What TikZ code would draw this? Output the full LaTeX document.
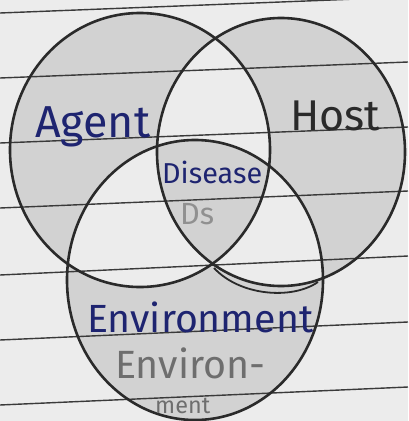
\documentclass[tikz,border=0pt]{standalone}
\usepackage{fontspec}
\setmainfont{Fira Sans}
\usepackage{graphicx}
\definecolor{paper}{HTML}{ECECEC}
\definecolor{shadegray}{HTML}{D2D2D2}
\definecolor{ink}{HTML}{2A2A2A}
\definecolor{blueink}{HTML}{1E2470}
\definecolor{pencil}{HTML}{6E6E6E}
\definecolor{faint}{HTML}{909090}
\definecolor{ruleline}{HTML}{3A3A3A}
\tikzset{
  circ/.style={draw=ink, line width=2.6pt},
  ruled/.style={draw=ruleline, line width=1.4pt},
  lbl/.style={inner sep=0pt, anchor=base west},
}
\begin{document}
\begin{tikzpicture}[x=1pt,y=-1pt]
\useasboundingbox (0,0) rectangle (408,421);
\clip (0,0) rectangle (408,421);
\fill[paper] (0,0) rectangle (408,421);
% Agent only
\begin{scope}
  \clip (140,150) ellipse [x radius=130, y radius=137];
  \fill[shadegray] (0,0) rectangle (408,421);
  \fill[paper] (281,152) ellipse [x radius=124, y radius=134];
  \fill[paper] (195,280) ellipse [x radius=128, y radius=140];
\end{scope}
% Host only
\begin{scope}
  \clip (281,152) ellipse [x radius=124, y radius=134];
  \fill[shadegray] (0,0) rectangle (408,421);
  \fill[paper] (140,150) ellipse [x radius=130, y radius=137];
  \fill[paper] (195,280) ellipse [x radius=128, y radius=140];
\end{scope}
% Environment only
\begin{scope}
  \clip (195,280) ellipse [x radius=128, y radius=140];
  \fill[shadegray] (0,0) rectangle (408,421);
  \fill[paper] (140,150) ellipse [x radius=130, y radius=137];
  \fill[paper] (281,152) ellipse [x radius=124, y radius=134];
\end{scope}
% Centre (disease)
\begin{scope}
  \clip (140,150) ellipse [x radius=130, y radius=137];
  \clip (281,152) ellipse [x radius=124, y radius=134];
  \clip (195,280) ellipse [x radius=128, y radius=140];
  \fill[shadegray] (0,0) rectangle (408,421);
\end{scope}
% ruled paper lines
\draw[ruled] (0,13) -- (408,-3);
\draw[ruled] (0,78) -- (408,62);
\draw[ruled] (0,143) -- (408,127);
\draw[ruled] (0,208) -- (408,191);
\draw[ruled] (0,275) -- (408,256);
\draw[ruled] (0,340) -- (408,322);
\draw[ruled] (0,405) -- (408,387);
% circles
\draw[circ] (140,150) ellipse [x radius=130, y radius=137];
\draw[circ] (281,152) ellipse [x radius=124, y radius=134];
\draw[circ] (195,280) ellipse [x radius=128, y radius=140];
\draw[circ, line width=1.8pt] (214,268) .. controls (240,296) and (292,300) .. (318,282);
% labels
\node[lbl, text=blueink] (agent) at (35,137) {\resizebox{115pt}{!}{Agent}};
\node[lbl, text=ink] (host) at (290,130) {\resizebox{90pt}{!}{Host}};
\node[lbl, text=blueink] (disease) at (162,183) {\resizebox{100pt}{!}{Disease}};
\node[lbl, text=faint] (ds) at (180,224) {\resizebox{34pt}{!}{Ds}};
\node[lbl, text=blueink] (env) at (87,332) {\resizebox{226pt}{!}{Environment}};
\node[lbl, text=pencil] (env2) at (115,378) {\resizebox{150pt}{!}{Environ-}};
\node[lbl, text=pencil] (ment) at (155,413) {\resizebox{55pt}{!}{ment}};
\end{tikzpicture}
\end{document}
